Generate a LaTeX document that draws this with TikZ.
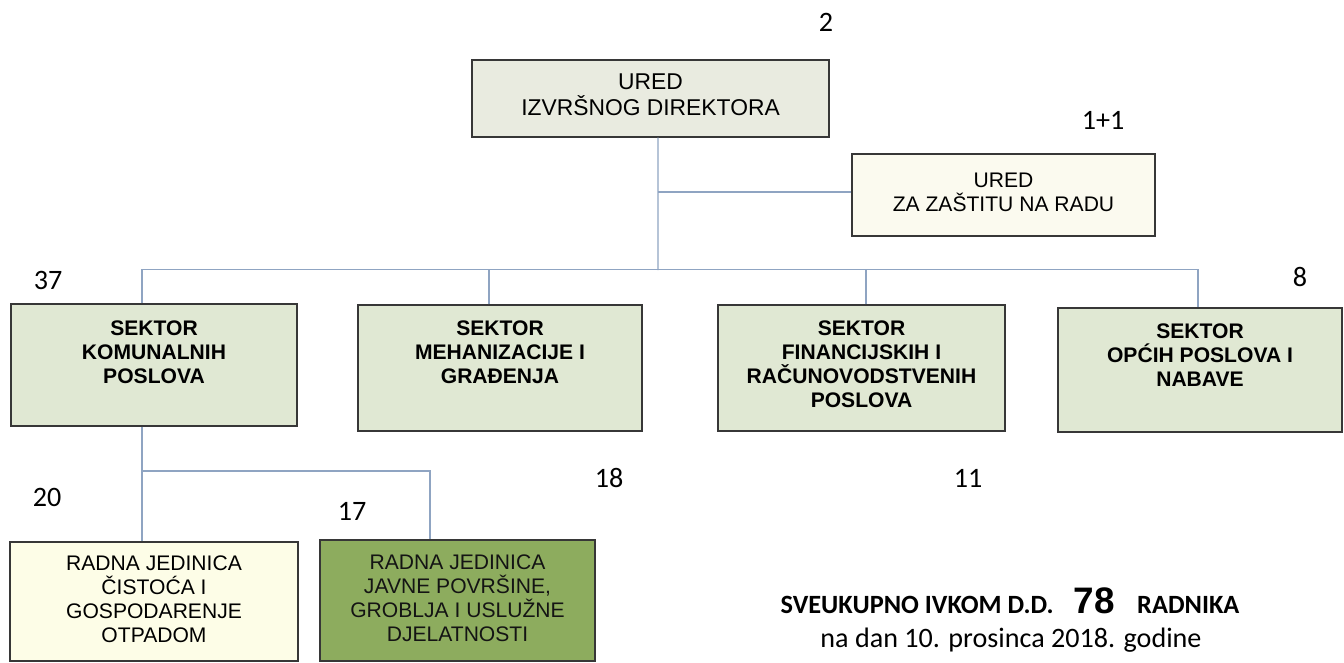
\documentclass[tikz,border=0pt]{standalone}
\usepackage{fontspec}
\setmainfont{Liberation Sans}
\newfontfamily\brojfont{Carlito}
\usetikzlibrary{positioning, calc}

\definecolor{sivozelena}{RGB}{224,232,211}
\definecolor{uredsiva}{RGB}{233,235,224}
\definecolor{krem}{RGB}{251,250,239}
\definecolor{svijetlozuta}{RGB}{253,253,231}
\definecolor{maslinasta}{RGB}{141,172,94}
\definecolor{vezaplava}{RGB}{143,164,194}
\definecolor{rub}{RGB}{55,55,55}

\begin{document}
\begin{tikzpicture}[x=0.02cm, y=-0.02cm,
okvir/.style={rectangle, draw=rub, line width=0.8pt, inner sep=0pt},
sektor_okvir/.style={okvir, fill=sivozelena},
tekst/.style={align=center, inner sep=0pt, font=\fontsize{12}{14}\selectfont},
sektor_tekst/.style={align=center, inner sep=0pt, font=\bfseries\fontsize{12}{13.6}\selectfont},
jedinica_tekst/.style={align=center, inner sep=0pt, font=\fontsize{12}{13.6}\selectfont},
broj/.style={inner sep=0pt, font=\brojfont\fontsize{16}{19}\selectfont},
veza/.style={draw=vezaplava, line width=0.75pt},
]

\useasboundingbox (0,0) rectangle (1344,662);

	% uprava
	\node[okvir, fill=uredsiva, minimum width=7.14cm, minimum height=1.54cm] at (650.5,98.5) (direktor) {};
	\node[tekst, font=\fontsize{13}{14.6}\selectfont, below=0.28cm of direktor.north] (direktor_tekst) {URED\\IZVRŠNOG DIREKTORA};

	\node[okvir, fill=krem, minimum width=6.06cm, minimum height=1.64cm] at (1003.5,195) (zastita) {};
	\node[tekst, below=0.38cm of zastita.north] (zastita_tekst) {URED\\ZA ZAŠTITU NA RADU};

	% sektori
	\node[sektor_okvir, minimum width=5.72cm, minimum height=2.44cm] at (154,365) (komunalni) {};
	\node[sektor_okvir, minimum width=5.68cm, minimum height=2.52cm] at (500,368) (mehanizacija) {};
	\node[sektor_okvir, minimum width=5.74cm, minimum height=2.52cm] at (861.5,368) (financije) {};
	\node[sektor_okvir, minimum width=5.68cm, minimum height=2.48cm] at (1200,370) (opci) {};

	\node[sektor_tekst, below=0.34cm of komunalni.north] (komunalni_tekst) {SEKTOR\\KOMUNALNIH\\POSLOVA};
	\node[sektor_tekst, below=0.32cm of mehanizacija.north] (mehanizacija_tekst) {SEKTOR\\MEHANIZACIJE I\\GRAĐENJA};
	\node[sektor_tekst, below=0.32cm of financije.north] (financije_tekst) {SEKTOR\\FINANCIJSKIH I\\RAČUNOVODSTVENIH\\POSLOVA};
	\node[sektor_tekst, below=0.32cm of opci.north] (opci_tekst) {SEKTOR\\OPĆIH POSLOVA I\\NABAVE};

	% radne jedinice
	\node[okvir, fill=svijetlozuta, minimum width=5.76cm, minimum height=2.38cm] at (154,601.5) (cistoca) {};
	\node[okvir, fill=maslinasta, minimum width=5.5cm, minimum height=2.42cm] at (457.5,600.5) (javne) {};

	\node[jedinica_tekst, below=0.28cm of cistoca.north] (cistoca_tekst) {RADNA JEDINICA\\ČISTOĆA I\\GOSPODARENJE\\OTPADOM};
	\node[jedinica_tekst, text=black!92, below=0.3cm of javne.north] (javne_tekst) {RADNA JEDINICA\\JAVNE POVRŠINE,\\GROBLJA I USLUŽNE\\DJELATNOSTI};

	% veze
	\coordinate (razvod) at (658,270);
	\coordinate (razvod_ured) at (658,192);
	\coordinate (razvod_kom) at (142,471);

	\draw[veza] ($(direktor.south)+(7.5,0)$) -- (razvod);
	\draw[veza] (razvod_ured) -- (razvod_ured -| zastita.west);
	\draw[veza] ($(komunalni.north)+(-12,0)$) -- ++(0,-34) -| ($(opci.north)+(-2,0)$);
	\draw[veza] ($(mehanizacija.north)+(-11,0)$) -- ++(0,-35);
	\draw[veza] ($(financije.north)+(4.5,0)$) -- ++(0,-35);
	\draw[veza] ($(komunalni.south)+(-12,0)$) -- (razvod_kom |- cistoca.north);
	\draw[veza] (razvod_kom) -| ($(javne.north)+(-27.5,0)$);

	% broj radnika
	\node[broj] at (826,22) (n_direktor) {2};
	\node[broj] at (1103,120) (n_zastita) {1+1};
	\node[broj] at (48,280) (n_komunalni) {37};
	\node[broj] at (609,478) (n_mehanizacija) {18};
	\node[broj] at (968,478) (n_financije) {11};
	\node[broj] at (1300,277) (n_opci) {8};
	\node[broj] at (47,497) (n_cistoca) {20};
	\node[broj] at (352,511) (n_javne) {17};

	\node[inner sep=0pt, anchor=base] at (1010,613) (ukupno) {{\brojfont\bfseries\fontsize{15}{18}\selectfont SVEUKUPNO IVKOM D.D.}\hspace{0.4cm}{\bfseries\fontsize{21}{24}\selectfont 78}\hspace{0.45cm}{\brojfont\bfseries\fontsize{15}{18}\selectfont RADNIKA}};
	\node[inner sep=0pt, anchor=base, font=\brojfont\fontsize{16}{19}\selectfont] at (1011,647) (datum) {na dan 10. prosinca 2018. godine};

\end{tikzpicture}
\end{document}
